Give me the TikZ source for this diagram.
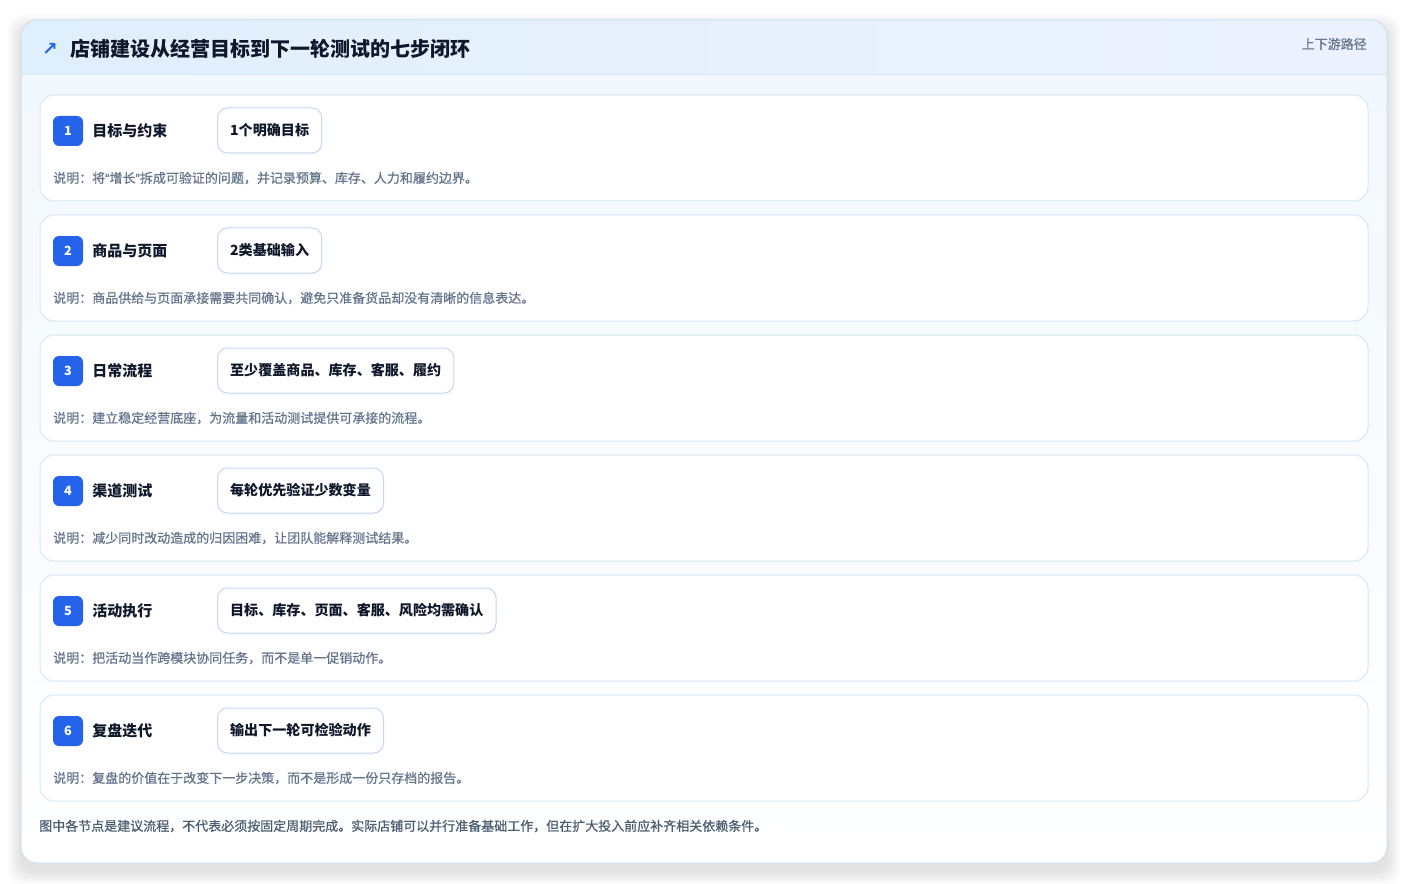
\documentclass[tikz,border=0pt]{standalone}
\usepackage{fontspec}
\setmainfont{Noto Sans CJK SC}
\newfontfamily\iconfont{DejaVu Sans}
\newfontfamily\notefont[FakeBold=0.6]{Noto Sans CJK SC}
\newfontfamily\quotefont[FakeBold=0.6]{Liberation Sans}
\usepackage{xcolor}
\usetikzlibrary{positioning,shadows}
\definecolor{OuterLine}{HTML}{C9E0F2}
\definecolor{HeadLeft}{HTML}{E0EFFC}
\definecolor{HeadRight}{HTML}{ECF2FD}
\definecolor{HeadRule}{HTML}{D5E7F7}
\definecolor{BodyTop}{HTML}{F1F8FE}
\definecolor{CardLine}{HTML}{DAE6F3}
\definecolor{PillLine}{HTML}{C5D8EF}
\definecolor{BadgeBlue}{HTML}{2563EB}
\definecolor{TitleInk}{HTML}{0F172A}
\definecolor{NoteGray}{HTML}{64748B}
\definecolor{FootGray}{HTML}{4B5B70}
\newcommand{\openq}{{\quotefont “}}
\newcommand{\closeq}{{\quotefont ”}}

\begin{document}
\begin{tikzpicture}[x=0.75pt,y=-0.75pt,
    stepcard/.style={draw=CardLine,line width=0.75pt,fill=white,rounded corners=10.5pt},
    badge/.style={fill=BadgeBlue,text=white,rounded corners=4.5pt,minimum size=22.5pt,
      inner sep=0pt,font=\bfseries\fontsize{9.5}{10}\selectfont},
    stepname/.style={anchor=west,inner sep=0pt,text=TitleInk,font=\bfseries\fontsize{11.25}{13}\selectfont},
    pill/.style={anchor=west,draw=PillLine,line width=0.75pt,fill=white,rounded corners=7.5pt,
      minimum height=33.75pt,inner xsep=9.5pt,text=TitleInk,font=\bfseries\fontsize{10.55}{12}\selectfont,
      drop shadow={opacity=0.05,shadow xshift=0pt,shadow yshift=-2pt}},
    note/.style={anchor=west,inner sep=0pt,text=NoteGray,font=\notefont\fontsize{9.75}{11}\selectfont}]
  \useasboundingbox (0,0) rectangle (1408,884);
  % soft shadow of the panel
  \foreach \i in {1,...,14}
    \fill[black,opacity=0.007,rounded corners=12pt] (21-\i,20-\i+8) rectangle (1387+\i,863+\i+8);
  % panel
  \begin{scope}
    \clip[rounded corners=12pt] (21,20) rectangle (1387,863);
    \shade[top color=BodyTop,bottom color=white] (21,20) rectangle (1387,863);
    \shade[left color=HeadLeft,right color=HeadRight] (21,20) rectangle (1387,75);
    \draw[HeadRule,line width=0.75pt] (21,75) -- (1387,75);
  \end{scope}
  \draw[OuterLine,line width=0.75pt,rounded corners=12pt] (21,20) rectangle (1387,863);

  % header
  \node[text=BadgeBlue,font=\iconfont\bfseries\fontsize{14}{14}\selectfont] (icon) at (50,49) {↗};
  \node[anchor=west,inner sep=0pt,text=TitleInk,font=\bfseries\fontsize{15}{17}\selectfont]
    (title) at (70,49) {店铺建设从经营目标到下一轮测试的七步闭环};
  \node[anchor=east,inner sep=0pt,text=NoteGray,font=\notefont\fontsize{9.75}{11}\selectfont]
    (route) at (1367,44) {上下游路径};

  % steps
  \foreach \n/\name/\pilltext/\notetext in {
      1/{目标与约束}/{1个明确目标}/{说明：将\openq 增长\closeq 拆成可验证的问题，并记录预算、库存、人力和履约边界。},
      2/{商品与页面}/{2类基础输入}/{说明：商品供给与页面承接需要共同确认，避免只准备货品却没有清晰的信息表达。},
      3/{日常流程}/{至少覆盖商品、库存、客服、履约}/{说明：建立稳定经营底座，为流量和活动测试提供可承接的流程。},
      4/{渠道测试}/{每轮优先验证少数变量}/{说明：减少同时改动造成的归因困难，让团队能解释测试结果。},
      5/{活动执行}/{目标、库存、页面、客服、风险均需确认}/{说明：把活动当作跨模块协同任务，而不是单一促销动作。},
      6/{复盘迭代}/{输出下一轮可检验动作}/{说明：复盘的价值在于改变下一步决策，而不是形成一份只存档的报告。}} {
    \pgfmathsetmacro\top{95+120*(\n-1)}
    \pgfmathsetmacro\bot{\top+106}
    \draw[stepcard] (40,\top) rectangle (1368,\bot);
    \node[badge] (badge-\n) at (68,\top+36) {\n};
    \node[stepname] (name-\n) at (92,\top+36) {\name};
    \node[pill] (pill-\n) at (217,\top+35.5) {\pilltext};
    \node[note] (note-\n) at (53,\top+83) {\notetext};
  }

  % footer
  \node[anchor=west,inner sep=0pt,text=FootGray,font=\notefont\fontsize{9.75}{11}\selectfont]
    (foot) at (39,826) {图中各节点是建议流程，不代表必须按固定周期完成。实际店铺可以并行准备基础工作，但在扩大投入前应补齐相关依赖条件。};
\end{tikzpicture}
\end{document}
